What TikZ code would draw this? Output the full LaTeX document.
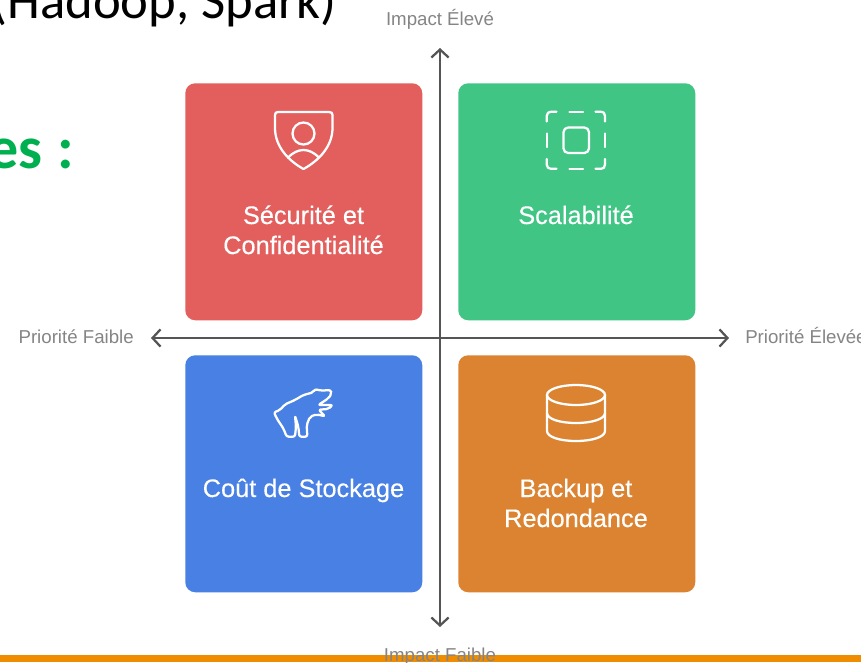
\documentclass[tikz,border=0pt]{standalone}
\usepackage{fontspec}
\setmainfont{Liberation Sans}
\newfontfamily\quadfont[FakeBold=0.25]{Liberation Sans}
\newfontfamily\slidefont{Carlito}
\usetikzlibrary{arrows.meta}
\definecolor{cred}{HTML}{E35F5D}
\definecolor{cgreen}{HTML}{40C585}
\definecolor{cblue}{HTML}{4880E4}
\definecolor{corange}{HTML}{DC8331}
\definecolor{cbar}{HTML}{F08C00}
\definecolor{caxis}{HTML}{555555}
\definecolor{clabel}{HTML}{858585}
\definecolor{cslide}{HTML}{00B050}
\tikzset{
  quad/.style={minimum width=177.75pt,minimum height=177.75pt,rounded corners=7.5pt,inner sep=0pt,anchor=north west},
  quadtext/.style={text=white,align=center,anchor=base,inner sep=0pt,font=\quadfont\fontsize{19}{22.5}\selectfont},
  axislabel/.style={text=clabel,font=\fontsize{14}{15}\selectfont,inner sep=0pt,anchor=base},
  axisline/.style={draw=caxis,line width=1.7pt,{Straight Barb[length=6pt,width=13pt,line width=1.7pt]}-{Straight Barb[length=6pt,width=13pt,line width=1.7pt]}},
  icon/.style={draw=white,line width=1.7pt,line cap=round,line join=round}
}
\begin{document}
\begin{tikzpicture}[x=0.75pt,y=-0.75pt]
\useasboundingbox (0,0) rectangle (861,662);
\clip (0,0) rectangle (861,662);
\fill[white] (0,0) rectangle (861,662);
\fill[cbar] (0,655) rectangle (861,662);
% slide remnants
\node[anchor=base east,inner sep=0pt,font=\slidefont\fontsize{39.5}{42}\selectfont] (tophead) at (337,18) {(Hadoop, Spark)};
\node[anchor=base east,inner sep=0pt,text=cslide,font=\slidefont\bfseries\fontsize{45}{48}\selectfont] (gres) at (74,168) {es\hspace{1pt} :};
% quadrants
\node[quad,fill=cred] (q1) at (185,83) {};
\node[quad,fill=cgreen] (q2) at (458,83) {};
\node[quad,fill=cblue] (q3) at (185,355) {};
\node[quad,fill=corange] (q4) at (458,355) {};
\node[quadtext] (t1a) at (303.5,224) {Sécurité et};
\node[quadtext] (t1b) at (303.5,254) {Confidentialité};
\node[quadtext] (t2) at (576,224) {Scalabilité};
\node[quadtext] (t3) at (303.5,497) {Coût de Stockage};
\node[quadtext] (t4a) at (576,497) {Backup et};
\node[quadtext] (t4b) at (576,527) {Redondance};
% axes
\coordinate (axT) at (440,48);
\coordinate (axB) at (440,627);
\coordinate (axL) at (151,338);
\coordinate (axR) at (729,338);
\draw[axisline] (axT) -- (axB);
\draw[axisline] (axL) -- (axR);
% axis labels
\node[axislabel] (lt) at (440,25) {Impact Élevé};
\node[axislabel] (lb) at (440,661) {Impact Faible};
\node[axislabel,anchor=base east] (ll) at (134,343) {Priorité Faible};
\node[axislabel,anchor=base west] (lr) at (745,343) {Priorité Élevée};
% shield icon
\draw[icon] (278,112) -- (329,112) .. controls (331.5,112) and (332.5,113) .. (332.5,115)
  -- (332.5,128) .. controls (332.5,147) and (318,161) .. (303.5,169)
  .. controls (289,161) and (275,147) .. (275,128) -- (275,115)
  .. controls (275,113) and (276,112) .. (278,112) -- cycle;
\draw[icon] (303.5,133.5) circle (11);
\draw[icon] (288,157.5) .. controls (298,147.5) and (309,147.5) .. (319,157.5);
% scale icon
\draw[icon] (546.7,121.5) -- (546.7,116) .. controls (546.7,113) and (548.7,111.7) .. (551,111.7) -- (556.5,111.7);
\draw[icon] (595.5,111.7) -- (601,111.7) .. controls (603.5,111.7) and (605,113) .. (605,116) -- (605,121.5);
\draw[icon] (605,159) -- (605,164.5) .. controls (605,167.5) and (603.5,168.8) .. (601,168.8) -- (595.5,168.8);
\draw[icon] (556.5,168.8) -- (551,168.8) .. controls (548.7,168.8) and (546.7,167.5) .. (546.7,164.5) -- (546.7,159);
\draw[icon] (569.5,111.7) -- (583,111.7);
\draw[icon] (569.5,168.8) -- (583,168.8);
\draw[icon] (546.7,133.5) -- (546.7,147);
\draw[icon] (605,133.5) -- (605,147);
\draw[icon,rounded corners=3.5pt] (563.5,127.5) rectangle (589,153);
% bear icon
\begin{scope}[shift={(260,375)},x=0.25pt,y=-0.25pt]
\draw[icon,rounded corners=1.6pt] (42,112) -- (60,105) -- (75,88) -- (105,75) -- (130,60) -- (160,52) -- (165,42) -- (182,47) -- (212,45) -- (215,56) -- (205,70) -- (175,90) -- (218,90) -- (205,102) -- (176,104) -- (195,124) -- (170,118) -- (150,125) -- (140,150) -- (142,185) -- (118,185) -- (115,155) -- (105,122) -- (108,155) -- (105,185) -- (80,185) -- (70,160) -- (50,130) -- cycle;
\end{scope}
% database icon
\draw[icon] (576,395) ellipse [x radius=29,y radius=10];
\draw[icon] (547,395) -- (547,431) .. controls (547,437) and (560,441) .. (576,441) .. controls (592,441) and (605,437) .. (605,431) -- (605,395);
\draw[icon] (547,413) .. controls (547,419) and (560,423) .. (576,423) .. controls (592,423) and (605,419) .. (605,413);
\end{tikzpicture}
\end{document}
